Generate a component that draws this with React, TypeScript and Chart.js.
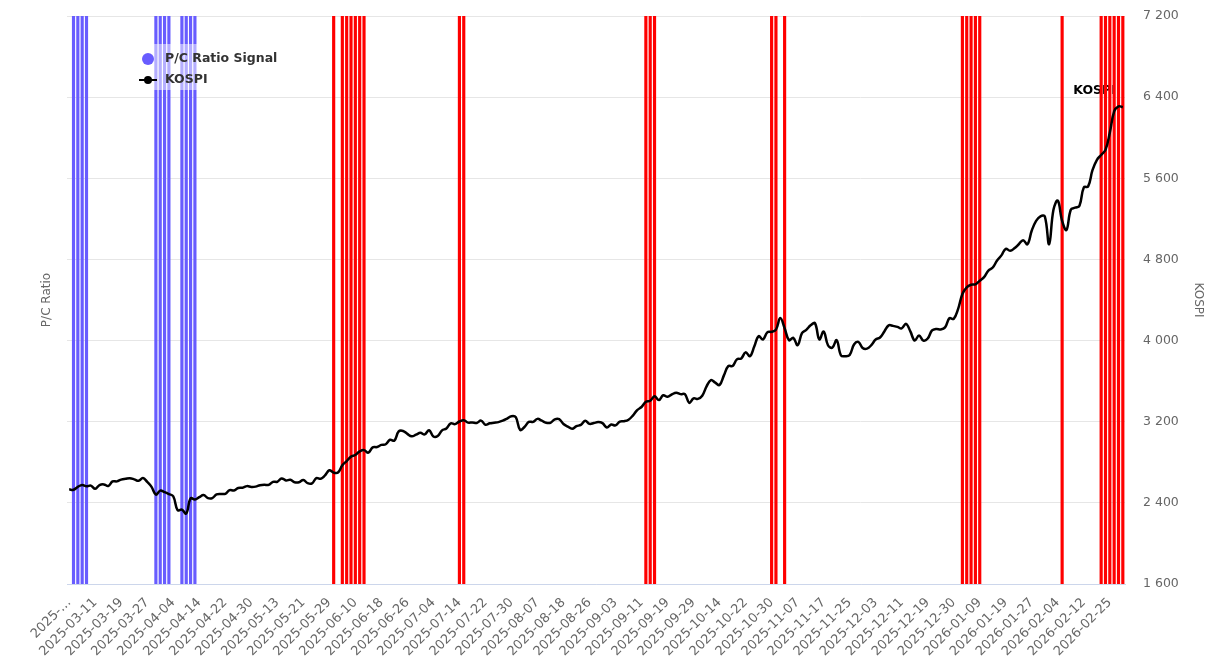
import { useEffect, useRef } from 'react';
import { Chart, registerables } from 'chart.js';

Chart.register(...registerables);

const dates: string[] = [
  '2025-02-28',
  '2025-03-04','2025-03-05','2025-03-06','2025-03-07','2025-03-10','2025-03-11','2025-03-12','2025-03-13','2025-03-14',
  '2025-03-17','2025-03-18','2025-03-19','2025-03-20','2025-03-21','2025-03-24','2025-03-25','2025-03-26','2025-03-27',
  '2025-03-28','2025-03-31',
  '2025-04-01','2025-04-02','2025-04-03','2025-04-04','2025-04-07','2025-04-08','2025-04-09','2025-04-10','2025-04-11',
  '2025-04-14','2025-04-15','2025-04-16','2025-04-17','2025-04-18','2025-04-21','2025-04-22','2025-04-23','2025-04-24',
  '2025-04-25','2025-04-28','2025-04-29','2025-04-30',
  '2025-05-02','2025-05-07','2025-05-08','2025-05-09','2025-05-12','2025-05-13','2025-05-14','2025-05-15','2025-05-16',
  '2025-05-19','2025-05-20','2025-05-21','2025-05-22','2025-05-23','2025-05-26','2025-05-27','2025-05-28','2025-05-29',
  '2025-05-30',
  '2025-06-02','2025-06-04','2025-06-05','2025-06-09','2025-06-10','2025-06-11','2025-06-12','2025-06-13','2025-06-16',
  '2025-06-17','2025-06-18','2025-06-19','2025-06-20','2025-06-23','2025-06-24','2025-06-25','2025-06-26','2025-06-27',
  '2025-06-30',
  '2025-07-01','2025-07-02','2025-07-03','2025-07-04','2025-07-07','2025-07-08','2025-07-09','2025-07-10','2025-07-11',
  '2025-07-14','2025-07-15','2025-07-16','2025-07-17','2025-07-18','2025-07-21','2025-07-22','2025-07-23','2025-07-24',
  '2025-07-25','2025-07-28','2025-07-29','2025-07-30','2025-07-31',
  '2025-08-01','2025-08-04','2025-08-05','2025-08-06','2025-08-07','2025-08-08','2025-08-11','2025-08-12','2025-08-13',
  '2025-08-14','2025-08-18','2025-08-19','2025-08-20','2025-08-21','2025-08-22','2025-08-25','2025-08-26','2025-08-27',
  '2025-08-28','2025-08-29',
  '2025-09-01','2025-09-02','2025-09-03','2025-09-04','2025-09-05','2025-09-08','2025-09-09','2025-09-10','2025-09-11',
  '2025-09-12','2025-09-15','2025-09-16','2025-09-17','2025-09-18','2025-09-19','2025-09-22','2025-09-23','2025-09-24',
  '2025-09-25','2025-09-26','2025-09-29','2025-09-30',
  '2025-10-01','2025-10-02','2025-10-10','2025-10-13','2025-10-14','2025-10-15','2025-10-16','2025-10-17','2025-10-20',
  '2025-10-21','2025-10-22','2025-10-23','2025-10-24','2025-10-27','2025-10-28','2025-10-29','2025-10-30','2025-10-31',
  '2025-11-03','2025-11-04','2025-11-05','2025-11-06','2025-11-07','2025-11-10','2025-11-11','2025-11-12','2025-11-13',
  '2025-11-14','2025-11-17','2025-11-18','2025-11-19','2025-11-20','2025-11-21','2025-11-24','2025-11-25','2025-11-26',
  '2025-11-27','2025-11-28',
  '2025-12-01','2025-12-02','2025-12-03','2025-12-04','2025-12-05','2025-12-08','2025-12-09','2025-12-10','2025-12-11',
  '2025-12-12','2025-12-15','2025-12-16','2025-12-17','2025-12-18','2025-12-19','2025-12-22','2025-12-23','2025-12-24',
  '2025-12-26','2025-12-29','2025-12-30',
  '2026-01-02','2026-01-05','2026-01-06','2026-01-07','2026-01-08','2026-01-09','2026-01-12','2026-01-13','2026-01-14',
  '2026-01-15','2026-01-16','2026-01-19','2026-01-20','2026-01-21','2026-01-22','2026-01-23','2026-01-26','2026-01-27',
  '2026-01-28','2026-01-29','2026-01-30',
  '2026-02-02','2026-02-03','2026-02-04','2026-02-05','2026-02-06','2026-02-09','2026-02-10','2026-02-11','2026-02-12',
  '2026-02-13','2026-02-19','2026-02-20','2026-02-23','2026-02-24','2026-02-25','2026-02-26','2026-02-27',
  '2026-03-03',
];

const kospi: number[] = [
  2533,
  2529, 2558, 2576, 2563, 2570, 2538, 2575, 2582, 2566,
  2611, 2612, 2629, 2637, 2643, 2632, 2617, 2644, 2607,
  2558, 2481,
  2521, 2506, 2487, 2465, 2328, 2334, 2294, 2445, 2433,
  2456, 2477, 2447, 2447, 2483, 2488, 2489, 2526, 2522,
  2546, 2549, 2565, 2557,
  2560, 2574, 2579, 2577, 2607, 2608, 2641, 2621, 2627,
  2603, 2603, 2626, 2594, 2592, 2644, 2637, 2670, 2721,
  2698,
  2699, 2771, 2812, 2856, 2872, 2907, 2920, 2895, 2947,
  2950, 2972, 2978, 3022, 3014, 3104, 3109, 3080, 3056,
  3072,
  3090, 3075, 3116, 3054, 3059, 3115, 3134, 3183, 3176,
  3202, 3215, 3191, 3193, 3188, 3211, 3170, 3184, 3190,
  3196, 3210, 3231, 3254, 3245,
  3119, 3148, 3198, 3199, 3228, 3210, 3190, 3190, 3224,
  3226, 3177, 3152, 3130, 3156, 3169, 3210, 3179, 3187,
  3196, 3186,
  3143, 3172, 3164, 3201, 3205, 3220, 3260, 3315, 3345,
  3396, 3407, 3450, 3413, 3461, 3445, 3469, 3486, 3472,
  3471, 3386, 3431, 3425,
  3456, 3549, 3611, 3585, 3562, 3657, 3748, 3749, 3815,
  3824, 3884, 3846, 3942, 4043, 4010, 4081, 4087, 4108,
  4222, 4122, 4004, 4026, 3954, 4073, 4106, 4150, 4171,
  4012, 4089, 3954, 3930, 4005, 3853, 3846, 3858, 3961,
  3987, 3927,
  3920, 3955, 4010, 4030, 4090, 4150, 4145, 4135, 4120,
  4165, 4090, 4000, 4050, 4000, 4020, 4100, 4115, 4110,
  4130, 4220, 4215,
  4310, 4460, 4525, 4550, 4555, 4590, 4625, 4690, 4720,
  4790, 4840, 4905, 4885, 4910, 4950, 4990, 4950, 5085,
  5180, 5225, 5225,
  4950, 5290, 5380, 5180, 5090, 5290, 5310, 5330, 5510,
  5520, 5680, 5780, 5830, 5880, 6050, 6260, 6310,
  6300,
];

const blueSignalDates: string[] = [
  '2025-03-04', '2025-03-05', '2025-03-06', '2025-03-07',
  '2025-03-31', '2025-04-01', '2025-04-02', '2025-04-03',
  '2025-04-08', '2025-04-09', '2025-04-10', '2025-04-11',
];

const redSignalDates: string[] = [
  '2025-05-30', '2025-06-04', '2025-06-05', '2025-06-09', '2025-06-10', '2025-06-11', '2025-06-12',
  '2025-07-14', '2025-07-15',
  '2025-09-12', '2025-09-15', '2025-09-16',
  '2025-10-30', '2025-10-31', '2025-11-04',
  '2026-01-05', '2026-01-06', '2026-01-07', '2026-01-08', '2026-01-09',
  '2026-02-05',
  '2026-02-23', '2026-02-24', '2026-02-25', '2026-02-26', '2026-02-27', '2026-03-03',
];

const kospiMin = 1600;
const kospiMax = 7200;
const kospiStep = 800;
const labelEvery = 6;
const firstLabelText = '2025-…';

const BLUE = 'rgb(104, 92, 255)';
const RED = '#ff0000';
const FONT = "'DejaVu Sans', sans-serif";

const fmtThousands = (v: number) =>
  String(Math.round(v)).replace(/\B(?=(\d{3})+(?!\d))/g, ' ');

export default function App() {
  const canvasRef = useRef<HTMLCanvasElement | null>(null);

  useEffect(() => {
    if (!canvasRef.current) return;
    const signalData = dates.map((d) =>
      blueSignalDates.includes(d) || redSignalDates.includes(d) ? 1 : null
    );
    const signalColors = dates.map((d) => (blueSignalDates.includes(d) ? BLUE : RED));

    const seriesLabelPlugin = {
      id: 'seriesLabel',
      beforeDatasetsDraw(chart: any) {
        const meta = chart.getDatasetMeta(0);
        const pts = meta.data;
        if (!pts || !pts.length) return;
        const last = pts[pts.length - 1];
        const ctx = chart.ctx;
        ctx.save();
        ctx.font = `bold 12.5px ${FONT}`;
        ctx.textAlign = 'right';
        ctx.textBaseline = 'middle';
        ctx.lineWidth = 3;
        ctx.strokeStyle = 'rgba(255,255,255,0.9)';
        ctx.lineJoin = 'round';
        const tx = last.x - 7;
        const ty = last.y - 17;
        ctx.strokeText('KOSPI', tx, ty);
        ctx.fillStyle = '#000';
        ctx.fillText('KOSPI', tx, ty);
        ctx.restore();
      },
    };

    const floatingLegendPlugin = {
      id: 'floatingLegend',
      afterDatasetsDraw(chart: any) {
        const ctx = chart.ctx;
        const x0 = 134;
        const y0 = 44;
        ctx.save();
        ctx.fillStyle = 'rgba(255,255,255,0.5)';
        ctx.fillRect(x0, y0, 152, 46);
        ctx.fillStyle = BLUE;
        ctx.beginPath();
        ctx.arc(x0 + 14, y0 + 15, 6, 0, Math.PI * 2);
        ctx.fill();
        ctx.strokeStyle = '#000';
        ctx.lineWidth = 2;
        ctx.beginPath();
        ctx.moveTo(x0 + 5, y0 + 36);
        ctx.lineTo(x0 + 23, y0 + 36);
        ctx.stroke();
        ctx.fillStyle = '#000';
        ctx.beginPath();
        ctx.arc(x0 + 14, y0 + 36, 4, 0, Math.PI * 2);
        ctx.fill();
        ctx.font = `bold 12.5px ${FONT}`;
        ctx.fillStyle = '#333333';
        ctx.textAlign = 'left';
        ctx.textBaseline = 'middle';
        ctx.fillText(chart.data.datasets[1].label, x0 + 31, y0 + 15);
        ctx.fillText(chart.data.datasets[0].label, x0 + 31, y0 + 36);
        ctx.restore();
      },
    };

    const chart = new Chart(canvasRef.current, {
      type: 'bar',
      data: {
        labels: dates,
        datasets: [
          {
            type: 'line',
            label: 'KOSPI',
            data: kospi,
            yAxisID: 'y',
            borderColor: '#000000',
            borderWidth: 2.5,
            pointRadius: 0,
            tension: 0.4,
            order: 1,
          } as any,
          {
            type: 'bar',
            label: 'P/C Ratio Signal',
            data: signalData,
            yAxisID: 'pc',
            backgroundColor: signalColors,
            barThickness: 2.5,
            order: 2,
          } as any,
        ],
      },
      options: {
        animation: false,
        responsive: true,
        maintainAspectRatio: false,
        layout: { padding: { left: 40, right: 5, top: 16, bottom: 0 } },
        plugins: {
          legend: { display: false },
          tooltip: { enabled: false },
        },
        scales: {
          x: {
            type: 'category',
            offset: true,
            grid: { display: false },
            border: { color: '#ccd6eb', width: 1 },
            ticks: {
              autoSkip: false,
              maxRotation: 45,
              minRotation: 45,
              color: '#666666',
              font: { family: FONT, size: 13 },
              padding: 3,
              callback: (_v: any, i: number) =>
                i % labelEvery === 0 ? (i === 0 ? firstLabelText : dates[i]) : null,
            },
            afterFit: (s: any) => {
              s.height = 84;
            },
          },
          pc: {
            position: 'left',
            min: 0,
            max: 1,
            grid: { display: false },
            border: { display: false },
            ticks: { display: false },
            title: {
              display: true,
              text: 'P/C Ratio',
              color: '#666666',
              font: { family: FONT, size: 12 },
              padding: 0,
            },
            afterFit: (s: any) => {
              s.width = 27;
              s.paddingTop = 0;
              s.paddingBottom = 0;
            },
          },
          y: {
            position: 'right',
            min: kospiMin,
            max: kospiMax,
            grid: { color: '#e6e6e6', drawTicks: false },
            border: { display: false },
            ticks: {
              stepSize: kospiStep,
              color: '#666666',
              font: { family: FONT, size: 12.5 },
              padding: 18,
              callback: (v: any) => fmtThousands(Number(v)),
            },
            title: {
              display: true,
              text: 'KOSPI',
              color: '#666666',
              font: { family: FONT, size: 12 },
              padding: 0,
            },
            afterFit: (s: any) => {
              s.width = 80;
              s.paddingTop = 0;
              s.paddingBottom = 0;
            },
          },
        } as any,
      },
      plugins: [seriesLabelPlugin, floatingLegendPlugin],
    });

    return () => chart.destroy();
  }, []);

  return (
    <div style={{ position: 'fixed', left: 0, top: 0, width: 1210, height: 668, background: '#fff' }}>
      <canvas ref={canvasRef} />
    </div>
  );
}
